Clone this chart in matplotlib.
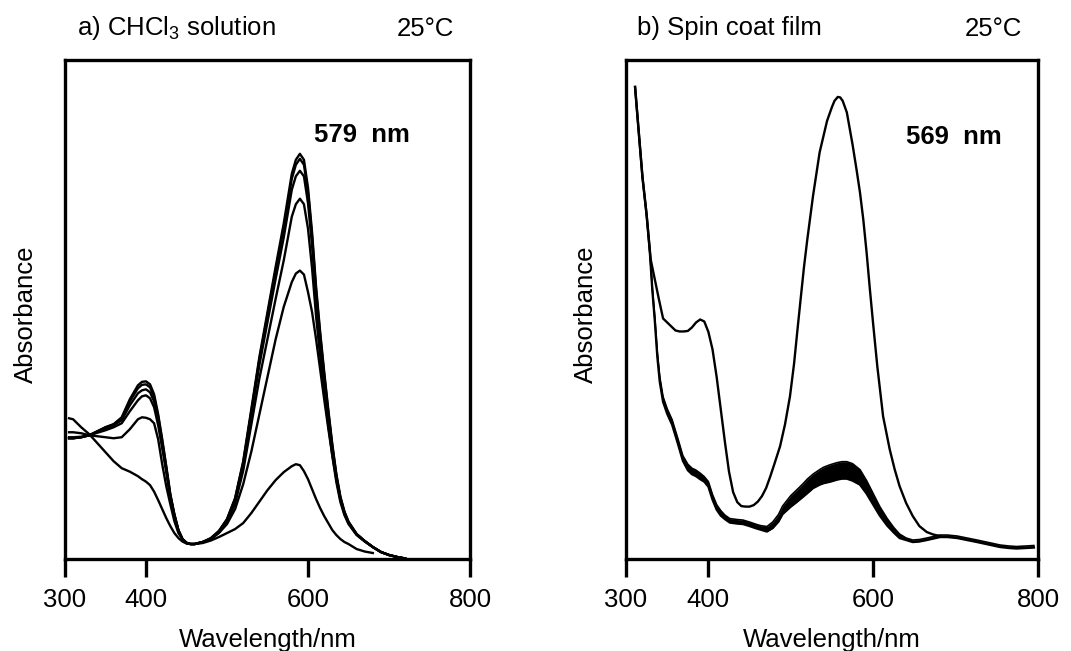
import numpy as np
import matplotlib
matplotlib.use('Agg')
import matplotlib.pyplot as plt

plt.rcParams['font.family'] = ['Liberation Sans', 'DejaVu Sans']
plt.rcParams['mathtext.fontset'] = 'custom'
plt.rcParams['mathtext.rm'] = 'Liberation Sans'

nan = np.nan

# a) CHCl3 solution, six spectra
wl_a = [305, 310, 320, 330, 340, 350, 360, 370, 380, 390,
        395, 400, 405, 410, 415, 420, 425, 430, 435, 440,
        445, 450, 455, 460, 470, 480, 490, 500, 510, 520,
        530, 540, 550, 560, 570, 580, 585, 590, 595, 600,
        605, 610, 615, 620, 625, 630, 635, 640, 645, 650,
        660, 670, 680, 690, 700, 710, 720]

sol1 = [0.242, 0.242, 0.244, 0.248, 0.256, 0.264, 0.270, 0.284, 0.320, 0.348,
        0.355, 0.356, 0.350, 0.330, 0.290, 0.240, 0.186, 0.130, 0.090, 0.058,
        0.040, 0.032, 0.030, 0.030, 0.034, 0.042, 0.056, 0.080, 0.122, 0.196,
        0.300, 0.405, 0.495, 0.585, 0.672, 0.772, 0.800, 0.812, 0.800, 0.744,
        0.655, 0.545, 0.455, 0.375, 0.300, 0.230, 0.170, 0.125, 0.095, 0.075,
        0.050, 0.036, 0.024, 0.014, 0.008, 0.004, 0.001]
sol2 = [0.242, 0.242, 0.244, 0.248, 0.256, 0.264, 0.270, 0.282, 0.316, 0.342,
        0.349, 0.350, 0.344, 0.325, 0.286, 0.237, 0.184, 0.129, 0.089, 0.058,
        0.040, 0.032, 0.030, 0.030, 0.034, 0.041, 0.056, 0.079, 0.121, 0.193,
        0.296, 0.400, 0.489, 0.577, 0.663, 0.762, 0.790, 0.802, 0.790, 0.735,
        0.647, 0.538, 0.449, 0.370, 0.296, 0.227, 0.168, 0.123, 0.094, 0.074,
        0.050, 0.036, 0.024, 0.014, 0.008, 0.004, 0.001]
sol3 = [0.242, 0.242, 0.244, 0.248, 0.255, 0.262, 0.268, 0.278, 0.308, 0.332,
        0.338, 0.340, 0.334, 0.316, 0.278, 0.230, 0.180, 0.126, 0.088, 0.057,
        0.040, 0.032, 0.030, 0.030, 0.034, 0.041, 0.055, 0.078, 0.118, 0.189,
        0.289, 0.389, 0.475, 0.561, 0.644, 0.740, 0.767, 0.778, 0.767, 0.713,
        0.628, 0.523, 0.436, 0.360, 0.288, 0.221, 0.164, 0.121, 0.092, 0.073,
        0.049, 0.036, 0.024, 0.014, 0.008, 0.004, 0.001]
sol4 = [0.244, 0.244, 0.245, 0.248, 0.253, 0.258, 0.264, 0.272, 0.296, 0.318,
        0.326, 0.328, 0.322, 0.304, 0.268, 0.222, 0.174, 0.122, 0.086, 0.056,
        0.040, 0.032, 0.030, 0.030, 0.034, 0.040, 0.053, 0.074, 0.111, 0.177,
        0.269, 0.362, 0.441, 0.521, 0.598, 0.686, 0.711, 0.722, 0.711, 0.662,
        0.583, 0.486, 0.406, 0.335, 0.269, 0.207, 0.154, 0.114, 0.088, 0.070,
        0.048, 0.035, 0.024, 0.014, 0.008, 0.004, 0.001]
sol5 = [0.254, 0.254, 0.252, 0.248, 0.246, 0.244, 0.242, 0.244, 0.260, 0.280,
        0.284, 0.283, 0.280, 0.272, 0.240, 0.190, 0.146, 0.110, 0.076, 0.052,
        0.040, 0.033, 0.030, 0.030, 0.034, 0.040, 0.052, 0.070, 0.100, 0.150,
        0.215, 0.290, 0.365, 0.440, 0.505, 0.555, 0.572, 0.578, 0.570, 0.535,
        0.495, 0.440, 0.380, 0.320, 0.262, 0.208, 0.160, 0.118, 0.090, 0.072,
        0.050, 0.036, 0.024, 0.014, 0.008, 0.004, 0.001]
sol6 = [0.282, 0.280, 0.264, 0.250, 0.232, 0.214, 0.196, 0.182, 0.175, 0.166,
        0.160, 0.155, 0.148, 0.135, 0.118, 0.100, 0.082, 0.066, 0.052, 0.042,
        0.035, 0.031, 0.030, 0.030, 0.032, 0.037, 0.044, 0.052, 0.060, 0.072,
        0.092, 0.115, 0.138, 0.158, 0.174, 0.186, 0.190, 0.188, 0.176, 0.160,
        0.140, 0.120, 0.102, 0.086, 0.072, 0.058, 0.048, 0.040, 0.034, 0.030,
        0.020, 0.015, 0.012, nan, nan, nan, nan]
solution = [sol1, sol2, sol3, sol4, sol5, sol6]

# b) spin coat film, first spectrum
wl_film = [311, 315, 320, 325, 330, 335, 340, 345, 350, 355,
           360, 365, 370, 375, 380, 385, 390, 395, 400, 405,
           410, 415, 420, 425, 430, 435, 440, 445, 450, 455,
           460, 465, 470, 475, 480, 487, 493, 499, 504, 508,
           512, 516, 520, 527, 535, 544, 550, 553, 557, 560,
           563, 568, 575, 580, 584, 588, 592, 596, 600, 605,
           612, 620, 626, 632, 640, 648, 656, 665, 673, 681]
film = [0.946, 0.865, 0.765, 0.690, 0.600, 0.560, 0.520, 0.482, 0.474, 0.466,
        0.458, 0.456, 0.456, 0.457, 0.464, 0.474, 0.480, 0.476, 0.455, 0.420,
        0.365, 0.300, 0.235, 0.175, 0.134, 0.114, 0.106, 0.105, 0.105, 0.108,
        0.115, 0.126, 0.142, 0.165, 0.190, 0.226, 0.270, 0.326, 0.392, 0.458,
        0.522, 0.585, 0.640, 0.728, 0.815, 0.878, 0.906, 0.918, 0.926, 0.925,
        0.918, 0.895, 0.830, 0.778, 0.734, 0.680, 0.614, 0.540, 0.470, 0.386,
        0.286, 0.220, 0.180, 0.146, 0.112, 0.086, 0.066, 0.054, 0.049, 0.046]

# b) the bundle of later spectra, lower and upper edge
wl_bundle = [311, 315, 320, 325, 329, 332, 335, 338, 341, 345,
             350, 356, 363, 369, 375, 380, 385, 390, 395, 400,
             405, 410, 415, 420, 426, 435, 442, 450, 457, 463,
             471, 478, 485, 490, 500, 507, 515, 520, 527, 535,
             540, 548, 556, 562, 568, 575, 584, 592, 600, 608,
             617, 625, 632, 640, 648, 656, 665, 673, 681, 690,
             702, 714, 726, 740, 754, 765, 774, 785, 795]
bundle_lo = [0.946, 0.865, 0.765, 0.690, 0.614, 0.538, 0.477, 0.406, 0.355, 0.315,
             0.291, 0.269, 0.231, 0.197, 0.178, 0.170, 0.166, 0.160, 0.155, 0.145,
             0.119, 0.099, 0.087, 0.080, 0.073, 0.071, 0.070, 0.066, 0.062, 0.059,
             0.055, 0.062, 0.075, 0.090, 0.105, 0.114, 0.125, 0.132, 0.142, 0.149,
             0.152, 0.155, 0.159, 0.161, 0.161, 0.157, 0.149, 0.131, 0.109, 0.087,
             0.067, 0.053, 0.042, 0.038, 0.034, 0.035, 0.038, 0.041, 0.044, 0.044,
             0.042, 0.038, 0.034, 0.029, 0.024, 0.022, 0.021, 0.022, 0.023]
bundle_hi = [0.946, 0.865, 0.765, 0.690, 0.614, 0.542, 0.483, 0.414, 0.365, 0.325,
             0.301, 0.279, 0.241, 0.207, 0.190, 0.182, 0.178, 0.172, 0.165, 0.155,
             0.129, 0.109, 0.097, 0.088, 0.081, 0.079, 0.078, 0.074, 0.070, 0.067,
             0.065, 0.074, 0.089, 0.106, 0.127, 0.138, 0.151, 0.160, 0.170, 0.179,
             0.184, 0.189, 0.193, 0.195, 0.195, 0.191, 0.179, 0.157, 0.131, 0.105,
             0.081, 0.063, 0.050, 0.042, 0.038, 0.039, 0.042, 0.045, 0.048, 0.048,
             0.046, 0.042, 0.038, 0.033, 0.028, 0.026, 0.025, 0.026, 0.027]

xticks = [300, 400, 600, 800]
fs = 18.5

fig = plt.figure(figsize=(10.71, 6.51), dpi=100)
axa = fig.add_axes([65 / 1071, 1 - 559 / 651, 405 / 1071, 499 / 651])
axb = fig.add_axes([626 / 1071, 1 - 559 / 651, 412 / 1071, 499 / 651])

for s in solution:
    axa.plot(wl_a, s, color='black', lw=1.7, solid_joinstyle='round')

axb.fill_between(wl_bundle, bundle_lo, bundle_hi, color='black', lw=0)
axb.plot(wl_bundle, bundle_lo, color='black', lw=1.7, solid_joinstyle='round')
axb.plot(wl_bundle, bundle_hi, color='black', lw=1.2, solid_joinstyle='round')
axb.plot(wl_film, film, color='black', lw=1.7, solid_joinstyle='round')

for ax in (axa, axb):
    ax.set_xlim(300, 800)
    ax.set_ylim(0, 1.0)
    ax.set_xticks(xticks)
    ax.set_yticks([])
    ax.tick_params(axis='x', direction='out', length=13, width=2.4,
                   labelsize=fs, pad=8)
    for sp in ax.spines.values():
        sp.set_linewidth(2.4)
    ax.set_xlabel('Wavelength/nm', fontsize=fs)
    ax.xaxis.set_label_coords(0.5, -0.138)
    ax.set_ylabel('Absorbance', fontsize=fs)
    ax.yaxis.set_label_coords(-0.067, 0.49)

axa.text(0.03, 1.064, r'a) CHCl$\mathregular{_3}$ solution', transform=axa.transAxes,
         fontsize=fs, ha='left', va='center')
axa.text(0.889, 1.062, '25°C', transform=axa.transAxes,
         fontsize=fs, ha='center', va='center')
axa.text(0.733, 0.85, '579  nm', transform=axa.transAxes,
         fontsize=fs, fontweight='bold', ha='center', va='center')

axb.text(0.027, 1.064, 'b) Spin coat film', transform=axb.transAxes,
         fontsize=fs, ha='left', va='center')
axb.text(0.893, 1.062, '25°C', transform=axb.transAxes,
         fontsize=fs, ha='center', va='center')
axb.text(0.796, 0.846, '569  nm', transform=axb.transAxes,
         fontsize=fs, fontweight='bold', ha='center', va='center')

fig.savefig('out.png', dpi=100)
